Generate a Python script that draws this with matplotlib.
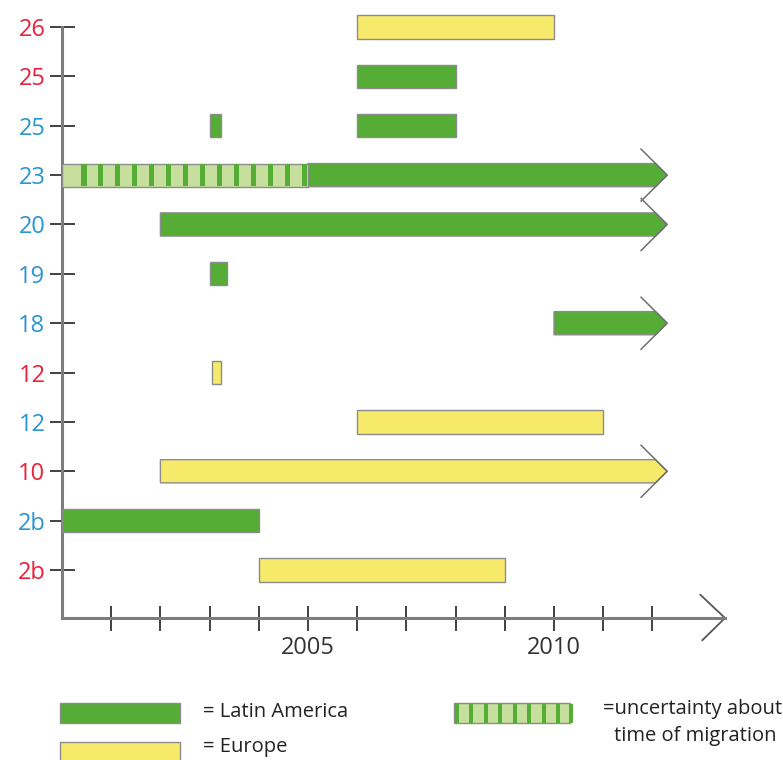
import matplotlib
matplotlib.use("Agg")
import matplotlib.pyplot as plt
from matplotlib.patches import Polygon, Rectangle

plt.rcParams['font.family'] = ['Open Sans', 'DejaVu Sans']

# rows from bottom to top
row_labels = ['2b', '2b', '10', '12', '12', '18', '19', '20', '23', '25', '25', '26']
row_colors = ['red', 'blue', 'red', 'blue', 'red', 'blue', 'blue', 'blue', 'blue', 'blue', 'red', 'red']

# bars: row index, start year, end year, region, continues (arrow)
bar_rows = [0, 1, 2, 3, 4, 5, 6, 7, 8, 9, 9, 10, 11]
bar_start = [2004, 2000, 2002, 2006, 2003.05, 2010, 2003, 2002, 2005, 2003, 2006, 2006, 2006]
bar_end = [2009, 2004, 2012.3, 2011, 2003.23, 2012.3, 2003.35, 2012.3, 2012.3, 2003.23, 2008, 2008, 2010]
bar_region = ['Europe', 'Latin America', 'Europe', 'Europe', 'Europe', 'Latin America', 'Latin America',
              'Latin America', 'Latin America', 'Latin America', 'Latin America', 'Latin America', 'Europe']
bar_arrow = [False, False, True, False, False, True, False, True, True, False, False, False, False]

# uncertain period
unc_row = 8
unc_start = 2000
unc_end = 2005

year_ticks = list(range(2001, 2013))
year_labels = {2005: '2005', 2010: '2010'}

GREEN = '#55ad35'
YELLOW = '#f7ea6b'
LIGHT = '#c6df9c'
EDGE = '#8c8c8c'
label_col = {'red': '#e8213b', 'blue': '#2a95d1'}
fill = {'Latin America': GREEN, 'Europe': YELLOW}

fig = plt.figure(figsize=(7.83, 7.6), dpi=100)

# legend area in pixel coords
lg = fig.add_axes([0, 0, 1, 1])
lg.set_xlim(0, 783)
lg.set_ylim(760, 0)
lg.axis('off')
lg.add_patch(Rectangle((60, 703), 120, 20, fc=GREEN, ec=EDGE, lw=1))
lg.add_patch(Rectangle((60, 742), 120, 22, fc=YELLOW, ec=EDGE, lw=1))
lg.add_patch(Rectangle((454, 703), 116, 20, fc=LIGHT, ec=EDGE, lw=1))
for k in range(9):
    lg.add_patch(Rectangle((454.5 + k * 14.5 - (2 if k == 8 else 0), 703.5), 4, 19, fc=GREEN, lw=0))
txt = dict(fontsize=14.5, va='center', color='#222222')
lg.text(203, 712, '= Latin America', **txt)
lg.text(203, 747, '= Europe', **txt)
lg.text(603, 709, '=uncertainty about', **txt)
lg.text(695, 736, 'time of migration', ha='center', **txt)

ax = fig.add_axes([62 / 783, 142 / 760, 721 / 783, 618 / 760])
ax.patch.set_alpha(0)
px_year = 49.2
px_row = 49.36
ax.set_xlim(2000, 2000 + 721 / px_year)
ax.set_ylim(-48 / px_row, 570 / px_row)

for s in ['top', 'right']:
    ax.spines[s].set_visible(False)
for s in ['left', 'bottom']:
    ax.spines[s].set_color('#7d7d7d')
    ax.spines[s].set_linewidth(2.2)
y_bottom = -48 / px_row
ax.spines['left'].set_bounds(y_bottom, 11)
x_end = 2000 + (725 - 62) / px_year
ax.spines['bottom'].set_bounds(2000, x_end)
ax.plot([x_end - 0.5, x_end, x_end - 0.46], [y_bottom + 0.47, y_bottom, y_bottom - 0.45],
        color='#555555', lw=1.3, clip_on=False)

ax.set_yticks(range(len(row_labels)))
ax.set_yticklabels(row_labels, fontsize=17)
for t, c in zip(ax.get_yticklabels(), row_colors):
    t.set_color(label_col[c])
ax.set_xticks(year_ticks)
ax.set_xticklabels([year_labels.get(y, '') for y in year_ticks], fontsize=17, color='#333333')
ax.tick_params(axis='y', direction='inout', length=18, width=1.3, color='#333333', pad=3)
ax.tick_params(axis='x', direction='inout', length=18, width=1.3, color='#333333', pad=4)

h = 0.47
arm = 0.53
arm_y = 0.527
for r, s, e, reg, arr in zip(bar_rows, bar_start, bar_end, bar_region, bar_arrow):
    if not arr:
        ax.barh(r, e - s, left=s, height=h, color=fill[reg], edgecolor=EDGE, linewidth=1, zorder=3)
    else:
        xcut = e - (h / 2) * arm / arm_y
        pts = [(s, r - h / 2), (xcut, r - h / 2), (e, r), (xcut, r + h / 2), (s, r + h / 2)]
        ax.add_patch(Polygon(pts, closed=True, fc=fill[reg], ec=EDGE, lw=1, zorder=3))
        ax.plot([e - arm, e, e - arm], [r + arm_y, r, r - arm_y], color='#6f6f6f', lw=1.1, zorder=4)

# uncertain part of the bar: light fill with green stripes
ax.barh(unc_row, unc_end - unc_start, left=unc_start, height=h, color=LIGHT, edgecolor=EDGE,
        linewidth=1, zorder=3)
period = 17 / px_year
x = unc_start + 19 / px_year
while x < unc_end - 0.1:
    ax.barh(unc_row, 5.5 / px_year, left=x, height=h - 0.02, color=GREEN, linewidth=0, zorder=3.5)
    x += period

fig.savefig('out.png', dpi=100)
